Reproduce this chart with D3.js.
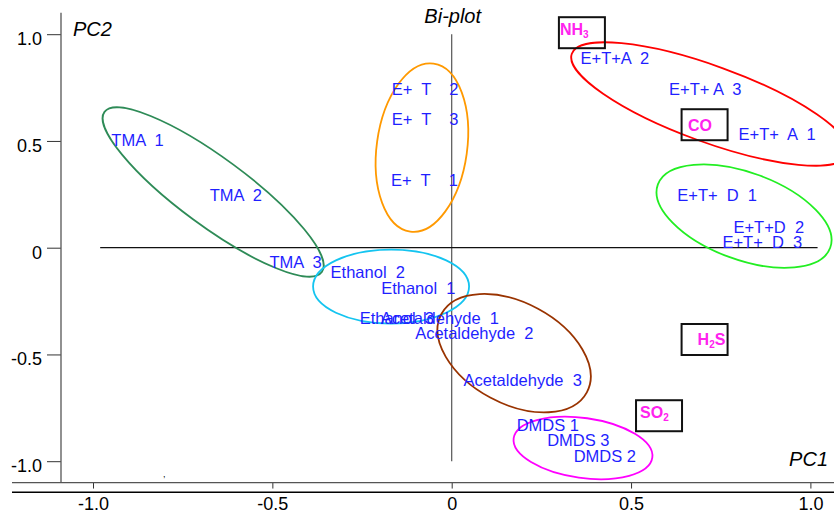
<!DOCTYPE html>
<html>
<head>
<meta charset="utf-8">
<script src="https://cdn.jsdelivr.net/npm/d3@7"></script>
<style>
body { margin: 0; background: #fff; }
svg { display: block; font-family: Arial, "Liberation Sans", sans-serif; }
.lbl { white-space: pre; }
</style>
</head>
<body>
<div id="chart"></div>
<script>
var svgWidth = 834;
var svgHeight = 513;

// sample scores (label centres)
var sampleNames = ["TMA  1", "TMA  2", "TMA  3",
    "E+  T    2", "E+  T    3", "E+  T    1",
    "Ethanol  2", "Ethanol  1", "Ethanol  3",
    "Acetaldehyde  1", "Acetaldehyde  2", "Acetaldehyde  3",
    "E+T+A  2", "E+T+ A  3", "E+T+  A  1",
    "E+T+  D  1", "E+T+D  2", "E+T+  D  3",
    "DMDS 1", "DMDS 3", "DMDS 2"];
var samplePC1 = [-0.876, -0.602, -0.435,
    -0.074, -0.074, -0.076,
    -0.234, -0.093, -0.153,
    -0.033, 0.063, 0.198,
    0.455, 0.707, 0.907,
    0.740, 0.884, 0.866,
    0.268, 0.353, 0.427];
var samplePC2 = [0.504, 0.247, -0.066,
    0.741, 0.604, 0.317,
    -0.116, -0.190, -0.331,
    -0.331, -0.400, -0.620,
    0.890, 0.741, 0.532,
    0.245, 0.097, 0.028,
    -0.833, -0.902, -0.975];

// gas loadings (box centres)
var gasNames = ["NH3", "CO", "H2S", "SO2"];
var gasPC1 = [0.363, 0.705, 0.705, 0.578];
var gasPC2 = [1.007, 0.576, -0.430, -0.787];

// cluster ellipse centres
var clusterNames = ["TMA", "E+T", "Ethanol", "Acetaldehyde", "E+T+A", "E+T+D", "DMDS"];
var clusterPC1 = [-0.665, -0.083, -0.169, 0.174, 0.720, 0.815, 0.366];
var clusterPC2 = [0.261, 0.469, -0.182, -0.494, 0.673, 0.148, -0.938];

var majorTicks = [-1.0, -0.5, 0, 0.5, 1.0];
var minorTicks = d3.range(-10, 11).map(d => d / 10);

// look of each ellipse: colour, radii (px), rotation (deg)
var ellipseStyle = {
    "TMA": { color: "#2e8b57", rx: 135, ry: 34, rot: 36.4 },
    "E+T": { color: "#ff9900", rx: 84.8, ry: 45.2, rot: -82.1 },
    "Ethanol": { color: "#14c4f0", rx: 78, ry: 37, rot: 0 },
    "Acetaldehyde": { color: "#993300", rx: 82.6, ry: 50.4, rot: 28.3 },
    "E+T+A": { color: "#ff0000", rx: 147, ry: 38, rot: 20 },
    "E+T+D": { color: "#22ee22", rx: 91.8, ry: 43.5, rot: 20.2 },
    "DMDS": { color: "#ff00ff", rx: 70, ry: 30, rot: 8 }
};
// where each gas text sits inside its box (px)
var gasText = {
    "NH3": { main: "NH", sub: "3", rest: "", dx: 1, dy: 17.7 },
    "CO": { main: "CO", sub: "", rest: "", dx: 6.3, dy: 21.4 },
    "H2S": { main: "H", sub: "2", rest: "S", dx: 16, dy: 21 },
    "SO2": { main: "SO", sub: "2", rest: "", dx: 4, dy: 17.3 }
};
var boxW = 46, boxH = 31;

var svg = d3.select("#chart")
    .append("svg")
    .attr("width", svgWidth)
    .attr("height", svgHeight);

var x = d3.scaleLinear().domain([-1, 1]).range([93, 810.4]);
var y = d3.scaleLinear().domain([-1, 1]).range([461.2, 34.2]);

var fmt = d => d === 0 ? "0" : d.toFixed(1);

// y axis
var yAxisG = svg.append("g").attr("transform", `translate(61,0)`);
yAxisG.call(d3.axisLeft(y).tickValues(minorTicks).tickSize(7).tickFormat(""));
yAxisG.call(d3.axisLeft(y).tickValues(majorTicks).tickSize(14).tickPadding(5).tickFormat(fmt));
yAxisG.selectAll(".domain").remove();
yAxisG.selectAll("line").attr("stroke", "#333");
yAxisG.selectAll("text")
    .attr("font-size", 18)
    .attr("font-family", "Arial, 'Liberation Sans', sans-serif")
    .attr("fill", "#000")
    .attr("dy", "0.64em")
    .attr("y", -1);
svg.append("line")
    .attr("x1", 61).attr("x2", 61)
    .attr("y1", y(1.1)).attr("y2", y(-1.1))
    .attr("stroke", "#555").attr("stroke-width", 1.3);

// x axis
var xAxisG = svg.append("g").attr("transform", `translate(0,${y(-1.1)})`);
xAxisG.call(d3.axisBottom(x).tickValues(minorTicks).tickSize(3.5).tickFormat(""));
xAxisG.call(d3.axisBottom(x).tickValues(majorTicks).tickSize(6).tickFormat(fmt));
xAxisG.selectAll(".domain").remove();
xAxisG.selectAll("line").attr("stroke", "#333");
xAxisG.selectAll("text")
    .attr("font-size", 18)
    .attr("font-family", "Arial, 'Liberation Sans', sans-serif")
    .attr("fill", "#000")
    .attr("y", 27.4)
    .attr("dy", 0);
svg.append("line")
    .attr("x1", 12).attr("x2", svgWidth)
    .attr("y1", y(-1.1)).attr("y2", y(-1.1))
    .attr("stroke", "#555").attr("stroke-width", 1.2);
svg.append("line")
    .attr("x1", 12).attr("x2", svgWidth)
    .attr("y1", y(-1.1) + 9.7).attr("y2", y(-1.1) + 9.7)
    .attr("stroke", "#000").attr("stroke-width", 1.3);

// the two crossing lines through the origin
svg.append("line")
    .attr("x1", x(0)).attr("x2", x(0))
    .attr("y1", y(1)).attr("y2", y(-1))
    .attr("stroke", "#555").attr("stroke-width", 1.2);
svg.append("line")
    .attr("x1", x(-0.98)).attr("x2", x(1.02))
    .attr("y1", y(0)).attr("y2", y(0))
    .attr("stroke", "#111").attr("stroke-width", 1.2);

// titles
svg.append("text").attr("x", 73).attr("y", 35.7)
    .attr("font-size", 20).attr("font-style", "italic").text("PC2");
svg.append("text").attr("x", x(0) + 1).attr("y", 22.7)
    .attr("text-anchor", "middle")
    .attr("font-size", 20).attr("font-style", "italic").text("Bi-plot");
svg.append("text").attr("x", 828).attr("y", 466)
    .attr("text-anchor", "end")
    .attr("font-size", 20).attr("font-style", "italic").text("PC1");
svg.append("text").attr("x", x(-0.805)).attr("y", y(-1.073))
    .attr("font-size", 9).text(",");

// cluster ellipses
clusterNames.forEach(function (name, i) {
    var s = ellipseStyle[name];
    var cx = x(clusterPC1[i]), cy = y(clusterPC2[i]);
    svg.append("ellipse")
        .attr("cx", cx).attr("cy", cy)
        .attr("rx", s.rx).attr("ry", s.ry)
        .attr("transform", `rotate(${s.rot},${cx},${cy})`)
        .attr("fill", "none")
        .attr("stroke", s.color)
        .attr("stroke-width", 1.8);
});

// gas boxes
gasNames.forEach(function (name, i) {
    var t = gasText[name];
    var left = x(gasPC1[i]) - boxW / 2, top = y(gasPC2[i]) - boxH / 2;
    svg.append("rect")
        .attr("x", left).attr("y", top)
        .attr("width", boxW).attr("height", boxH)
        .attr("fill", "none").attr("stroke", "#111").attr("stroke-width", 2);
    var txt = svg.append("text")
        .attr("x", left + t.dx).attr("y", top + t.dy)
        .attr("fill", "#ff22ee").attr("font-weight", "bold").attr("font-size", 16);
    txt.append("tspan").text(t.main);
    if (t.sub) txt.append("tspan").attr("font-size", 10).attr("dy", 3).text(t.sub);
    if (t.rest) txt.append("tspan").attr("dy", -3).text(t.rest);
});

// sample labels
svg.selectAll(".lbl")
    .data(sampleNames)
    .enter()
    .append("text")
    .attr("class", "lbl")
    .attr("x", (d, i) => x(samplePC1[i]))
    .attr("y", (d, i) => y(samplePC2[i]))
    .attr("dy", "0.36em")
    .attr("text-anchor", "middle")
    .attr("font-size", 16.5)
    .attr("fill", "#1f1fff")
    .text(d => d);
</script>
</body>
</html>
